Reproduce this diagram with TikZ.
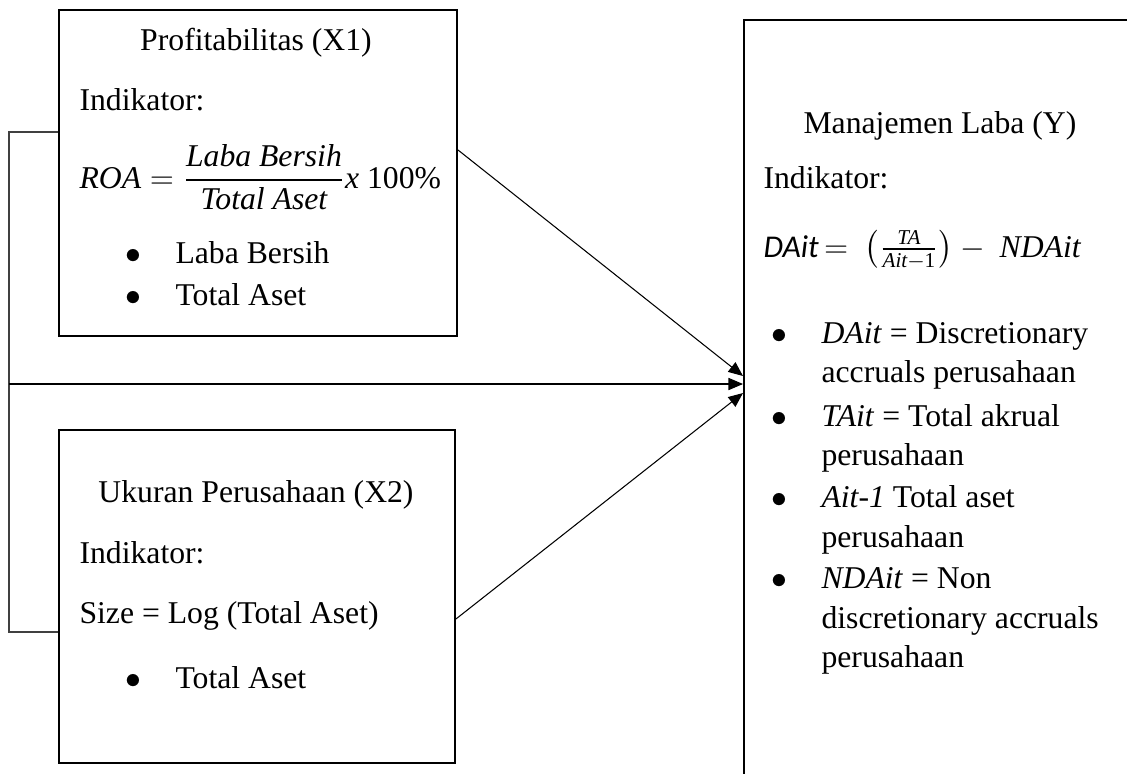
\documentclass[tikz,border=0pt]{standalone}
\usepackage{amsmath}
\usepackage{fontspec}
\setmainfont{Liberation Serif}
\newfontfamily\calibri{Carlito}
\usetikzlibrary{arrows.meta}

\begin{document}
\begin{tikzpicture}[x=0.3786pt, y=-0.3786pt,
  box/.style={draw, line width=0.75pt, rectangle, inner sep=0pt, anchor=north west},
  txt/.style={anchor=base west, inner sep=0pt, font=\fontsize{12}{14}\selectfont},
  dot/.style={txt, anchor=base},
  link/.style={draw=black!75, line width=0.7pt},
  arr/.style={draw, line width=0.4pt, -{Triangle[length=5.5pt,width=4.6pt]}}]
\useasboundingbox (0,0) rectangle (1127,773);
\clip (0,0) rectangle (1127,773);
% boxes
\node[box, minimum width=150.7pt, minimum height=123.4pt] (x1) at (58,9) {};
\node[box, minimum width=149.9pt, minimum height=126.1pt] (x2) at (58,429) {};
\node[box, minimum width=160pt, minimum height=300pt] (y) at (743,19) {};
% X1
\node[dot] (x1title) at (256,50) {Profitabilitas (X1)};
\node[txt] (x1ind) at (79,110) {Indikator:};
\node[txt] (x1roa) at (79,188) {$\displaystyle \textit{ROA} = \frac{\textit{Laba Bersih}}{\textit{Total Aset}}\textit{x}\ \text{100\%}$};
\node[dot] (x1b1) at (133,263) {$\bullet$};
\node[txt] (x1i1) at (175,263) {Laba Bersih};
\node[dot] (x1b2) at (133,305) {$\bullet$};
\node[txt] (x1i2) at (175,305) {Total Aset};
% X2
\node[dot] (x2title) at (256,502) {Ukuran Perusahaan (X2)};
\node[txt] (x2ind) at (79,563) {Indikator:};
\node[txt] (x2size) at (79,623) {Size = Log (Total Aset)};
\node[dot] (x2b1) at (133,688) {$\bullet$};
\node[txt] (x2i1) at (175,688) {Total Aset};
% Y
\node[txt] (ytitle) at (803,133) {Manajemen Laba (Y)};
\node[txt] (yind) at (763,188) {Indikator:};
\node[txt] (yda) at (763,257) {{\calibri\itshape DAit}$\,=\ \left(\frac{\textit{TA}}{\textit{Ait}-\text{1}}\right)-\ \textit{NDAit}$};
\node[dot] (yb1) at (779,343) {$\bullet$};
\node[txt] (yi1) at (821,343) {\textit{DAit} = Discretionary};
\node[txt] (yi1b) at (821,382) {accruals perusahaan};
\node[dot] (yb2) at (779,426) {$\bullet$};
\node[txt] (yi2) at (821,426) {\textit{TAit} = Total akrual};
\node[txt] (yi2b) at (821,465) {perusahaan};
\node[dot] (yb3) at (779,507) {$\bullet$};
\node[txt] (yi3) at (821,507) {\textit{Ait-1} Total aset};
\node[txt] (yi3b) at (821,547) {perusahaan};
\node[dot] (yb4) at (779,588) {$\bullet$};
\node[txt] (yi4) at (821,588) {\textit{NDAit} = Non};
\node[txt] (yi4b) at (821,628) {discretionary accruals};
\node[txt] (yi4c) at (821,667) {perusahaan};
% connectors
\coordinate (jt) at (9,132);
\coordinate (jm) at (9,384);
\coordinate (jb) at (9,632);
\coordinate (s1) at (0,150);
\coordinate (e1) at (0,376);
\coordinate (s2) at (0,619);
\coordinate (e2) at (0,393);
\draw[link] (x1.west |- jt) -- (jt) -- (jb) -- (x2.west |- jb);
\draw[arr] (jm) -- (y.west |- jm);
\draw[arr] (x1.east |- s1) -- (y.west |- e1);
\draw[arr] (x2.east |- s2) -- (y.west |- e2);
\end{tikzpicture}
\end{document}
